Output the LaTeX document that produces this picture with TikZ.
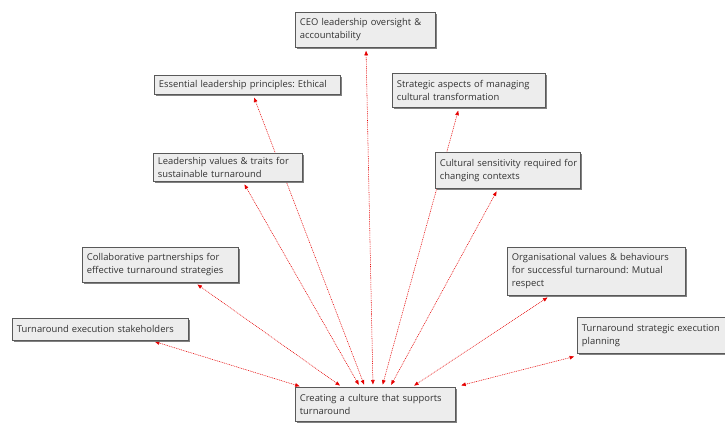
\documentclass[tikz,border=0pt]{standalone}
\usepackage{fontspec}
\setmainfont{Open Sans}
\usetikzlibrary{arrows.meta,shadows,backgrounds}

\tikzset{
  concept/.style={
    draw=black!65, line width=0.8pt, fill=black!7,
    drop shadow={shadow xshift=1.6pt, shadow yshift=-1.6pt, fill=black!55, opacity=0.9},
    anchor=north west, inner xsep=4.5pt, inner ysep=2pt, align=left,
    font=\fontsize{9.4}{13}\selectfont\frenchspacing, text=black!80
  },
  link/.style={
    red!90!black, line width=0.55pt, dash pattern=on 0.9pt off 0.9pt,
    {Triangle[length=4.5pt,width=3.6pt]}-{Triangle[length=4.5pt,width=3.6pt]},
    shorten <=2.5pt, shorten >=3pt
  }
}

\begin{document}
\begin{tikzpicture}[x=1pt, y=-1pt]
\useasboundingbox (0,0) rectangle (725,425);
\clip (0,0) rectangle (725,425);

% hub and surrounding concepts
\node[concept, minimum width=160pt, minimum height=34pt, text width=151pt] (create) at (295,387)
  {Creating a culture that supports\\turnaround};
\node[concept, minimum width=140pt, minimum height=35pt, text width=131pt] (ceo) at (295,12)
  {CEO leadership oversight \&\\accountability};
\node[concept, minimum width=186pt, minimum height=19pt, text width=177pt] (ess) at (154,75)
  {Essential leadership principles: Ethical};
\node[concept, minimum width=153pt, minimum height=34pt, text width=144pt] (strat) at (392,73)
  {Strategic aspects of managing\\cultural transformation};
\node[concept, minimum width=149pt, minimum height=28pt, text width=140pt] (lead) at (153,153)
  {Leadership values \& traits for\\sustainable turnaround};
\node[concept, minimum width=145pt, minimum height=36pt, text width=136pt] (cult) at (435,152)
  {\mbox{Cultural sensitivity required for}\\changing contexts};
\node[concept, minimum width=156pt, minimum height=35pt, text width=147pt] (collab) at (82,247)
  {Collaborative partnerships for\\effective turnaround strategies};
\node[concept, minimum width=176pt, minimum height=22pt, text width=167pt] (stake) at (12,318)
  {Turnaround execution stakeholders};
\node[concept, minimum width=178pt, minimum height=48pt, text width=169pt] (org) at (507,247)
  {Organisational values \& behaviours\\for successful turnaround: Mutual\\respect};
\node[concept, minimum width=175pt, minimum height=36pt, text width=166pt] (plan) at (577,317)
  {Turnaround strategic execution\\planning};

% connectors from the hub, drawn behind the boxes
\begin{pgfonlayer}{background}
\draw[link] ([xshift=7pt]create.north west)  -- ([xshift=140pt]stake.south west);
\draw[link] ([xshift=47pt]create.north west) -- ([xshift=113pt]collab.south west);
\draw[link] ([xshift=65pt]create.north west) -- ([xshift=90pt]lead.south west);
\draw[link] ([xshift=70pt]create.north west) -- ([xshift=99pt]ess.south west);
\draw[link] ([xshift=78pt]create.north west) -- ([xshift=71pt]ceo.south west);
\draw[link] ([xshift=87pt]create.north west) -- ([xshift=67pt]strat.south west);
\draw[link] ([xshift=95pt]create.north west) -- ([xshift=63pt]cult.south west);
\draw[link] ([xshift=117pt]create.north west) -- ([xshift=43pt]org.south west);
\draw[link] ([xshift=3pt,yshift=1pt]create.north east) -- ([yshift=-2pt]plan.south west);
\end{pgfonlayer}
\end{tikzpicture}
\end{document}
